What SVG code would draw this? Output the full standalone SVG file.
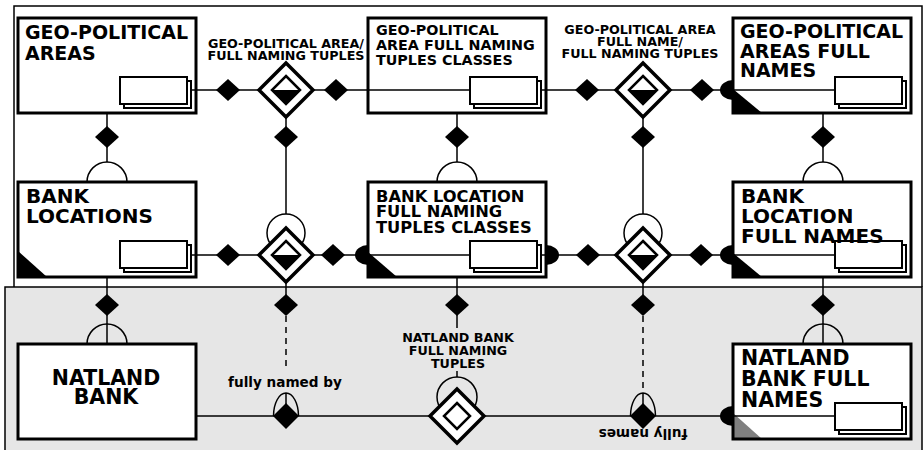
<svg xmlns="http://www.w3.org/2000/svg" width="924" height="450" viewBox="0 0 924 450">
  <defs>
    <style>
      .bg{fill:#fff}
      .bd{fill:none;stroke:#000;stroke-width:3}
      .ic{fill:#fff;stroke:#000;stroke-width:2}
      .t{font-family:"DejaVu Sans","Liberation Sans",sans-serif;font-weight:700;fill:#000}
      .lbl{font-size:12.7px;text-anchor:middle}
      .ln{fill:none;stroke:#000;stroke-width:1.5}
      .dash{stroke-dasharray:6 5}
      .blk{fill:#000}
      .frame{fill:none;stroke:#000;stroke-width:1.5}
    </style>
    <!-- stacked-record icon -->
    <g id="stack">
      <rect class="ic" x="4" y="4" width="67" height="27"/>
      <rect class="ic" x="0" y="0" width="67" height="27"/>
    </g>
    <!-- small filled diamond -->
    <path id="sd" class="blk" d="M0,-11L12,0L0,11L-12,0Z"/>
    <!-- relationship diamond, lower inner half filled -->
    <g id="relh">
      <path d="M0,-27L27,0L0,27L-27,0Z" fill="#fff" stroke="#000" stroke-width="3.5"/>
      <path d="M-14,0L14,0L0,14Z" fill="#000"/>
      <path d="M0,-14L14,0L0,14L-14,0Z" fill="none" stroke="#000" stroke-width="2.5"/>
    </g>
    <!-- relationship diamond, hollow inner -->
    <g id="relo">
      <path d="M0,-27L27,0L0,27L-27,0Z" fill="#fff" stroke="#000" stroke-width="3.5"/>
      <path d="M0,-13L13,0L0,13L-13,0Z" fill="#fff" stroke="#000" stroke-width="2.5"/>
    </g>
    <!-- "one" markers on box edges -->
    <path id="oneL" class="blk" d="M0,-10A13,10 0 0 0 0,10Z"/>
    <path id="oneR" class="blk" d="M0,-10A13,10 0 0 1 0,10Z"/>
    <!-- open half-circle above a box -->
    <path id="cap" class="ln" d="M-20,0A20,20 0 0 1 20,0"/>
  </defs>

  <!-- page background and shaded lower band -->
  <rect x="0" y="0" width="924" height="450" fill="#fff"/>
  <rect x="5" y="287" width="917" height="163" fill="#e6e6e6"/>
  <path class="frame" d="M14,287V6H922V287"/>
  <path class="frame" d="M5,450V287H922V450"/>

  <!-- entity boxes -->
  <g id="geo-political-areas">
    <rect class="bg" x="18" y="18" width="178" height="95"/>
    <rect class="bd" x="18" y="18" width="178" height="95"/>
    <use href="#stack" x="120" y="77"/>
    <text class="t" font-size="19"><tspan x="25" y="39">GEO-POLITICAL</tspan><tspan x="25" y="60">AREAS</tspan></text>
  </g>

  <g id="geo-political-area-full-naming-tuples-classes">
    <rect class="bg" x="368" y="18" width="178" height="95"/>
    <rect class="bd" x="368" y="18" width="178" height="95"/>
    <use href="#stack" x="470" y="77"/>
    <text class="t" font-size="14.3"><tspan x="376" y="35">GEO-POLITICAL</tspan><tspan x="376" y="50">AREA FULL NAMING</tspan><tspan x="376" y="65">TUPLES CLASSES</tspan></text>
  </g>

  <g id="geo-political-areas-full-names">
    <rect class="bg" x="733" y="18" width="178" height="95"/>
    <path class="blk" d="M733,89V113H762Z"/>
    <rect class="bd" x="733" y="18" width="178" height="95"/>
    <use href="#stack" x="835" y="77"/>
    <text class="t" font-size="19"><tspan x="740" y="38">GEO-POLITICAL</tspan><tspan x="740" y="58">AREAS FULL</tspan><tspan x="740" y="77">NAMES</tspan></text>
    <use href="#oneL" x="733" y="90"/>
  </g>

  <g id="bank-locations">
    <rect class="bg" x="18" y="182" width="178" height="95"/>
    <path class="blk" d="M18,251V277H47Z"/>
    <rect class="bd" x="18" y="182" width="178" height="95"/>
    <use href="#stack" x="120" y="241"/>
    <text class="t" font-size="20"><tspan x="26" y="203">BANK</tspan><tspan x="26" y="223">LOCATIONS</tspan></text>
  </g>

  <g id="bank-location-full-naming-tuples-classes">
    <rect class="bg" x="368" y="182" width="178" height="95"/>
    <path class="blk" d="M368,252V277H397Z"/>
    <rect class="bd" x="368" y="182" width="178" height="95"/>
    <use href="#stack" x="470" y="241"/>
    <text class="t" font-size="16.3"><tspan x="376" y="202">BANK LOCATION</tspan><tspan x="376" y="217">FULL NAMING</tspan><tspan x="376" y="233">TUPLES CLASSES</tspan></text>
    <use href="#oneL" x="368" y="255"/>
    <use href="#oneR" x="546" y="255"/>
  </g>

  <g id="bank-location-full-names">
    <rect class="bg" x="733" y="182" width="178" height="95"/>
    <path class="blk" d="M733,253V277H762Z"/>
    <rect class="bd" x="733" y="182" width="178" height="95"/>
    <use href="#stack" x="835" y="241"/>
    <text class="t" font-size="20"><tspan x="741" y="203">BANK</tspan><tspan x="741" y="223">LOCATION</tspan><tspan x="741" y="243">FULL NAMES</tspan></text>
    <use href="#oneL" x="733" y="255"/>
  </g>

  <g id="natland-bank">
    <rect class="bg" x="18" y="344" width="178" height="95"/>
    <rect class="bd" x="18" y="344" width="178" height="95"/>
    <text class="t" font-size="20.5" text-anchor="middle"><tspan x="106" y="385">NATLAND</tspan><tspan x="106" y="404">BANK</tspan></text>
  </g>

  <g id="natland-bank-full-names">
    <rect class="bg" x="733" y="344" width="178" height="95"/>
    <path fill="#808080" d="M733,413V439H762Z"/>
    <rect class="bd" x="733" y="344" width="178" height="95"/>
    <use href="#stack" x="835" y="403"/>
    <text class="t" font-size="20.5"><tspan x="741" y="365">NATLAND</tspan><tspan x="741" y="386">BANK FULL</tspan><tspan x="741" y="407">NAMES</tspan></text>
    <use href="#oneL" x="733" y="416"/>
  </g>

  <!-- connectors -->
  <g id="connectors">
    <path class="ln" d="M191,90H470M541,90H835"/>
    <path class="ln" d="M191,255H470M541,255H835"/>
    <path class="ln" d="M196,416H835"/>
    <path class="ln" d="M107,113V162M107,277V344"/>
    <path class="ln" d="M286,117V214M286,282V305"/>
    <path class="ln dash" d="M286,316V371"/>
    <path class="ln" d="M457,113V162M457,277V328M457,371V377"/>
    <path class="ln" d="M643,117V214M643,282V305"/>
    <path class="ln dash" d="M643,316V393"/>
    <path class="ln" d="M823,113V162M823,277V344"/>

    <use href="#cap" x="107" y="182"/>
    <use href="#cap" x="457" y="182"/>
    <use href="#cap" x="823" y="182"/>
    <use href="#cap" x="107" y="344"/>
    <use href="#cap" x="823" y="344"/>

    <use href="#sd" x="228" y="90"/>
    <use href="#sd" x="336" y="90"/>
    <use href="#sd" x="587" y="90"/>
    <use href="#sd" x="702" y="90"/>
    <use href="#sd" x="228" y="255"/>
    <use href="#sd" x="333" y="255"/>
    <use href="#sd" x="588" y="255"/>
    <use href="#sd" x="701" y="255"/>
    <use href="#sd" x="107" y="137"/>
    <use href="#sd" x="286" y="137"/>
    <use href="#sd" x="457" y="137"/>
    <use href="#sd" x="643" y="137"/>
    <use href="#sd" x="823" y="137"/>
    <use href="#sd" x="107" y="305"/>
    <use href="#sd" x="286" y="305"/>
    <use href="#sd" x="457" y="305"/>
    <use href="#sd" x="643" y="305"/>
    <use href="#sd" x="823" y="305"/>
  </g>

  <!-- relationships -->
  <g id="rel-geo-area-tuples">
    <use href="#relh" x="286" y="90"/>
    <text class="t lbl"><tspan x="286" y="48">GEO-POLITICAL AREA/</tspan><tspan x="286" y="60">FULL NAMING TUPLES</tspan></text>
  </g>
  <g id="rel-geo-full-name-tuples">
    <use href="#relh" x="643" y="90"/>
    <text class="t lbl"><tspan x="640" y="34">GEO-POLITICAL AREA</tspan><tspan x="640" y="46">FULL NAME/</tspan><tspan x="640" y="58">FULL NAMING TUPLES</tspan></text>
  </g>
  <g id="rel-bank-location-tuples">
    <circle class="ln" cx="286" cy="233" r="19"/>
    <use href="#relh" x="286" y="255"/>
  </g>
  <g id="rel-bank-location-full-names">
    <circle class="ln" cx="643" cy="233" r="19"/>
    <use href="#relh" x="643" y="255"/>
  </g>
  <g id="rel-natland-bank-tuples">
    <circle class="ln" cx="457" cy="397" r="20"/>
    <use href="#relo" x="457" y="416"/>
    <text class="t lbl"><tspan x="458" y="342">NATLAND BANK</tspan><tspan x="458" y="355">FULL NAMING</tspan><tspan x="458" y="368">TUPLES</tspan></text>
  </g>
  <g id="rel-fully-named-by">
    <path class="ln" d="M273.5,416A12.5,23 0 0 1 298.5,416M286,393V404"/>
    <path class="blk" d="M286,403L299,416L286,429L273,416Z"/>
    <text class="t" font-size="13.6" text-anchor="middle" x="285" y="387">fully named by</text>
  </g>
  <g id="rel-fully-names">
    <path class="ln" d="M630.5,416A12.5,23 0 0 1 655.5,416M643,393V404"/>
    <path class="blk" d="M643,403L656,416L643,429L630,416Z"/>
    <text class="t" font-size="13.6" text-anchor="middle" x="643" y="429" transform="rotate(180 643 429)">fully names</text>
  </g>
</svg>
